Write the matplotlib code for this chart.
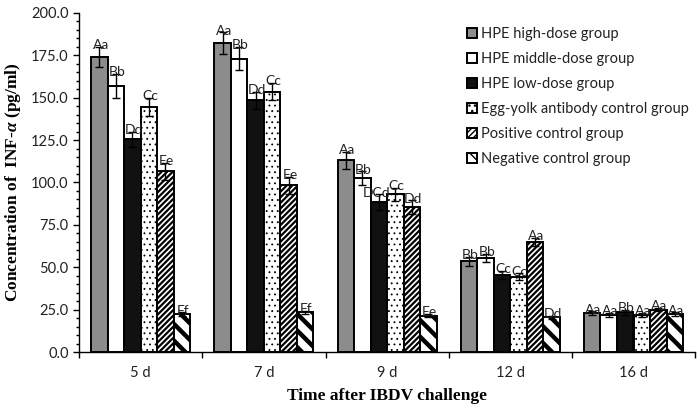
import numpy as np
import matplotlib
matplotlib.use("Agg")
import matplotlib.pyplot as plt
from matplotlib.ticker import MultipleLocator, FixedLocator, NullFormatter

# Datos
days = ["5 d", "7 d", "9 d", "12 d", "16 d"]
groups = ["HPE high-dose group", "HPE middle-dose group", "HPE low-dose group",
          "Egg-yolk antibody control group", "Positive control group",
          "Negative control group"]

high = [174.0, 182.0, 113.0, 53.5, 23.0]
middle = [157.0, 173.0, 102.5, 55.5, 22.0]
low = [125.5, 148.5, 88.5, 45.5, 23.5]
egg = [144.5, 153.5, 93.0, 44.5, 22.0]
positive = [106.5, 98.5, 85.5, 65.0, 25.0]
negative = [22.5, 23.5, 21.5, 20.5, 22.5]

high_err = [6.0, 6.5, 5.0, 2.5, 1.0]
middle_err = [7.0, 7.0, 4.0, 2.5, 1.0]
low_err = [4.5, 5.0, 4.5, 2.5, 1.5]
egg_err = [5.5, 5.0, 4.0, 2.0, 1.0]
positive_err = [5.0, 5.0, 4.0, 2.5, 1.0]
negative_err = [1.0, 1.0, 1.0, 1.0, 1.0]

high_lab = ["Aa", "Aa", "Aa", "Bb", "Aa"]
middle_lab = ["Bb", "Bb", "Bb", "Bb", "Aa"]
low_lab = ["Dd", "Dd", "DCd", "Cc", "Bb"]
egg_lab = ["Cc", "Cc", "Cc", "Cc", "Aa"]
positive_lab = ["Ee", "Ee", "Dd", "Aa", "Aa"]
negative_lab = ["Ff", "Ff", "Ee", "Dd", "Aa"]

values = [high, middle, low, egg, positive, negative]
errors = [high_err, middle_err, low_err, egg_err, positive_err, negative_err]
letters = [high_lab, middle_lab, low_lab, egg_lab, positive_lab, negative_lab]

# estilos de cada grupo: (relleno, hatch, grosor hatch)
styles = [("#8c8c8c", None, 1.0),
          ("white", None, 1.0),
          ("#111111", None, 1.0),
          ("white", "...", 0.6),
          ("white", "//////", 1.6),
          ("white", "\\\\", 3.2)]

plt.rcParams["hatch.color"] = "black"
plt.rcParams["mathtext.fontset"] = "custom"
plt.rcParams["mathtext.it"] = "Liberation Serif:italic:bold"
plt.rcParams["mathtext.rm"] = "Liberation Serif:bold"
sans = "Lato"

fig = plt.figure(figsize=(7.0, 4.11), dpi=100)
ax = fig.add_axes([0.113, 0.143, 0.88, 0.826])

x = np.arange(len(days))
w = 0.134
n = len(values)
for i in range(n):
    fc, hatch, hlw = styles[i]
    pos = x + (i - (n - 1) / 2) * w
    with plt.rc_context({"hatch.linewidth": hlw}):
        bars = ax.bar(pos, values[i], w, color=fc, edgecolor="black",
                      linewidth=1.4, hatch=hatch, label=groups[i], zorder=2)
    for b in bars:
        if hasattr(b, "set_hatch_linewidth"):
            b.set_hatch_linewidth(hlw)
    ax.errorbar(pos, values[i], yerr=errors[i], fmt="none", ecolor="black",
                elinewidth=1.0, capsize=3, capthick=1.0, zorder=3)
    for j in range(len(days)):
        lab = letters[i][j]
        dx = 0.01 if len(lab) < 3 else -0.02  # etiqueta larga un poco a la izquierda
        ax.text(pos[j] + dx, values[i][j] + errors[i][j] - 2.5, lab,
                ha="center", va="bottom", fontsize=10, family=sans,
                color="#222222", zorder=4)

ax.set_xlim(-0.5, len(days) - 0.5)
ax.set_ylim(0, 200)
ax.yaxis.set_major_locator(MultipleLocator(25))
ax.yaxis.set_minor_locator(MultipleLocator(5))
ax.set_yticklabels(["%.1f" % v for v in ax.get_yticks()])
ax.tick_params(axis="y", which="major", direction="out", length=4, width=1,
               labelsize=10.5, labelcolor="#222222")
ax.tick_params(axis="y", which="minor", direction="out", length=2, width=1)
for lab in ax.get_yticklabels():
    lab.set_family(sans)

# ticks del eje x entre grupos, etiquetas en el centro
ax.xaxis.set_major_locator(FixedLocator(np.arange(-0.5, len(days), 1.0)))
ax.xaxis.set_major_formatter(NullFormatter())
ax.xaxis.set_minor_locator(FixedLocator(x))
ax.set_xticklabels(days, minor=True, family=sans, fontsize=10.5, color="#222222")
ax.tick_params(axis="x", which="major", direction="out", length=4, width=1)
ax.tick_params(axis="x", which="minor", length=0, pad=10)

ax.spines["top"].set_visible(False)
ax.spines["right"].set_visible(False)
ax.spines["left"].set_linewidth(1.0)
ax.spines["bottom"].set_linewidth(1.0)

ax.set_xlabel("Time after IBDV challenge", family="Liberation Serif",
              fontweight="bold", fontsize=12.5, labelpad=6)
ax.set_ylabel(r"Concentration of  INF-$\alpha$ (pg/ml)", family="Liberation Serif",
              fontweight="bold", fontsize=12.5, labelpad=6)

leg = ax.legend(loc="upper left", bbox_to_anchor=(0.62, 0.975), frameon=False,
                fontsize=10.5, handlelength=0.7, handleheight=0.7,
                handletextpad=0.3, labelspacing=0.75, borderaxespad=0)
for t in leg.get_texts():
    t.set_family(sans)
    t.set_color("#222222")

fig.savefig("out.png", dpi=100)
